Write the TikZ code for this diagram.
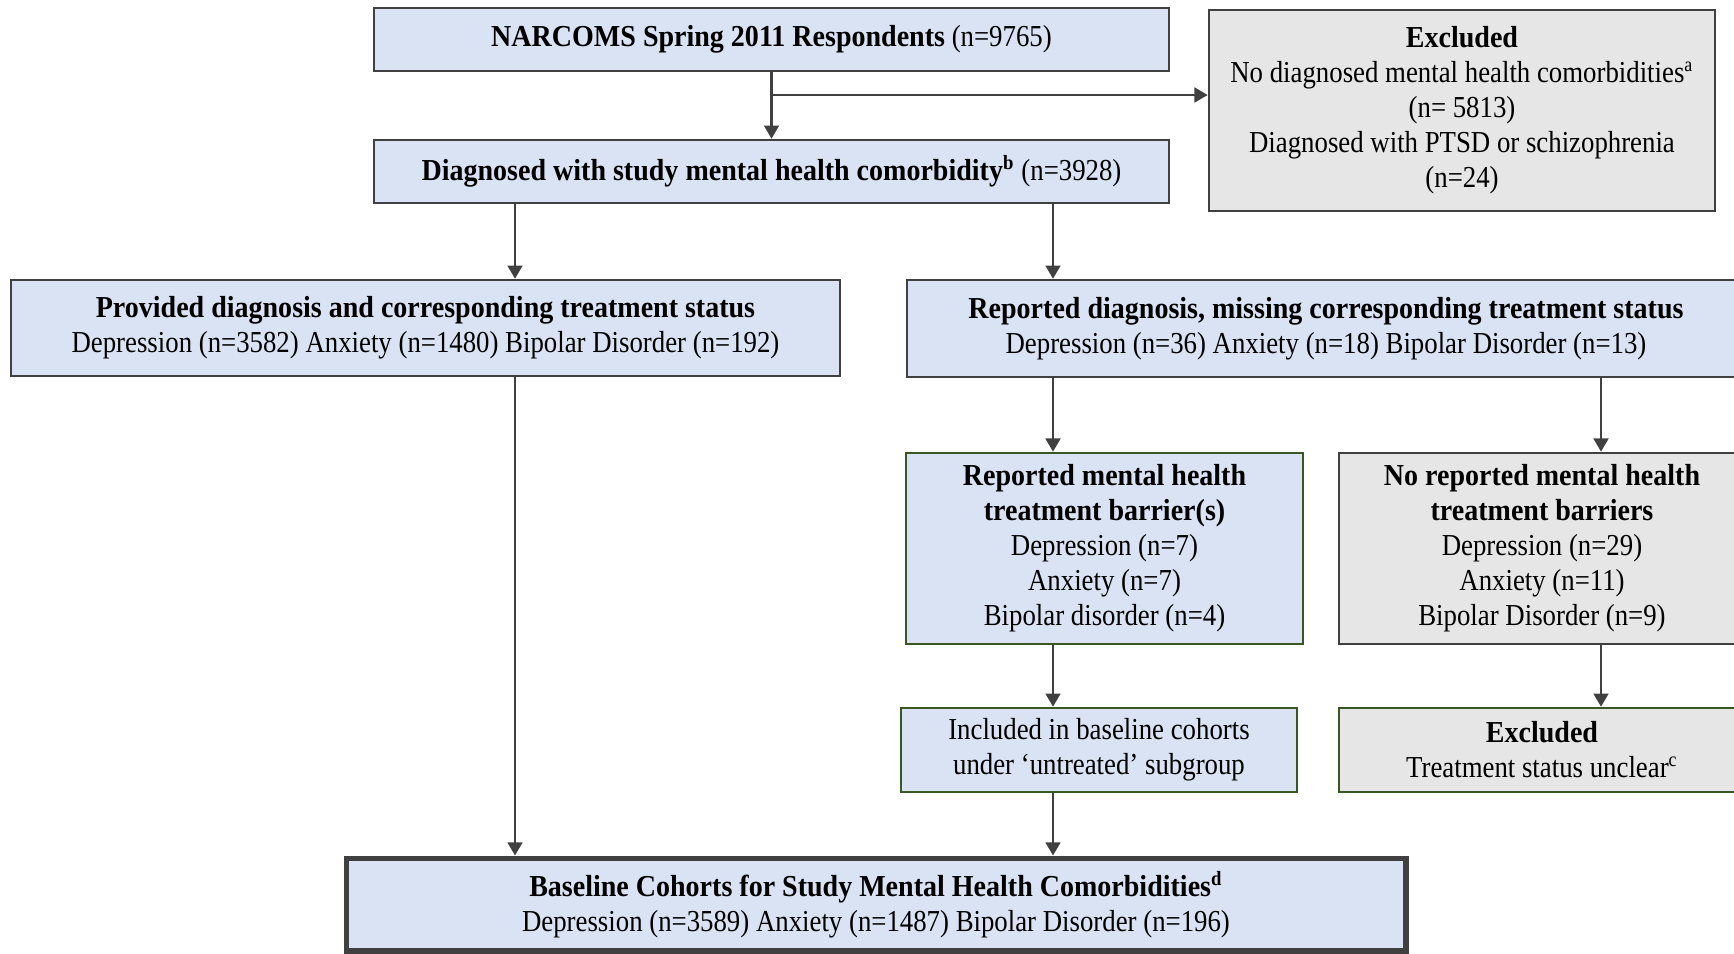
\documentclass[tikz,border=0pt]{standalone}
\usepackage{fontspec}
\setmainfont{Liberation Serif}[FakeStretch=0.88,BoldFeatures={FakeStretch=0.92}]
\usetikzlibrary{arrows.meta}
\definecolor{boxblue}{HTML}{DAE3F3}
\definecolor{boxgrey}{HTML}{E7E6E6}
\definecolor{edgegrey}{HTML}{404040}
\definecolor{edgegreen}{HTML}{385723}
\tikzset{
  box/.style={draw=edgegrey,line width=1pt,align=center,inner sep=0pt,
    font=\fontsize{12}{13.8}\selectfont},
  bluebox/.style={box,fill=boxblue},
  greybox/.style={box,fill=boxgrey},
  greenline/.style={draw=edgegreen},
}
\begin{document}
\begin{tikzpicture}[x=0.394pt,y=-0.394pt]
      \clip (0,0) rectangle (1734,953);
      \draw
        (771.5,39.5) node[bluebox,minimum width=313.2pt,minimum height=24.8pt] (0)
          {\textbf{NARCOMS Spring 2011 Respondents} (n=9765)}
        (1462,110.5) node[greybox,minimum width=199.4pt,minimum height=79.2pt] (1)
          {\textbf{Excluded}\\No diagnosed mental health comorbidities\textsuperscript{a}\\(n= 5813)\\Diagnosed with PTSD or schizophrenia\\(n=24)}
        (771.5,171.5) node[bluebox,minimum width=313.2pt,minimum height=24.8pt] (2)
          {\textbf{Diagnosed with study mental health comorbidity\textsuperscript{b}} (n=3928)}
        (425.5,328) node[bluebox,minimum width=326.6pt,minimum height=37.8pt] (3)
          {\textbf{Provided diagnosis and corresponding treatment status}\\Depression (n=3582) Anxiety (n=1480) Bipolar Disorder (n=192)}
        (1326,328.5) node[bluebox,minimum width=330.2pt,minimum height=38.2pt] (4)
          {\textbf{Reported diagnosis, missing corresponding treatment status}\\Depression (n=36) Anxiety (n=18) Bipolar Disorder (n=13)}
        (1104.5,548.5) node[bluebox,greenline,minimum width=156.4pt,minimum height=75.3pt] (5)
          {\textbf{Reported mental health}\\\textbf{treatment barrier(s)}\\Depression (n=7)\\Anxiety (n=7)\\Bipolar disorder (n=4)}
        (1542,548.5) node[greybox,minimum width=160pt,minimum height=75.3pt] (6)
          {\textbf{No reported mental health}\\\textbf{treatment barriers}\\Depression (n=29)\\Anxiety (n=11)\\Bipolar Disorder (n=9)}
        (1099,750) node[bluebox,greenline,minimum width=156pt,minimum height=33.1pt] (7)
          {Included in baseline cohorts\\under ‘untreated’ subgroup}
        (1542,750) node[greybox,greenline,minimum width=160pt,minimum height=33.1pt] (8)
          {\textbf{Excluded}\\Treatment status unclear\textsuperscript{c}}
        (876,904.5) node[bluebox,line width=2pt,minimum width=417.6pt,minimum height=36.6pt] (9)
          {\textbf{Baseline Cohorts for Study Mental Health Comorbidities\textsuperscript{d}}\\Depression (n=3589) Anxiety (n=1487) Bipolar Disorder (n=196)};
      \coordinate (s) at (771.5,95);
      \coordinate (l) at (515,0);
      \coordinate (m) at (1053,0);
      \coordinate (r) at (1601,0);
      \begin{scope}[-{Triangle[length=5.2pt,width=5.8pt]},draw=edgegrey,line width=1pt]
        \draw (0) to (2);
        \draw (s) to (s -| 1.west);
        \draw (2.south -| l) to (3.north -| l);
        \draw (2.south -| m) to (4.north -| m);
        \draw (4.south -| m) to (5.north -| m);
        \draw (4.south -| r) to (6.north -| r);
        \draw (5.south -| m) to (7.north -| m);
        \draw (6.south -| r) to (8.north -| r);
        \draw (3.south -| l) to (9.north -| l);
        \draw (7.south -| m) to (9.north -| m);
      \end{scope}
    \end{tikzpicture}
\end{document}
